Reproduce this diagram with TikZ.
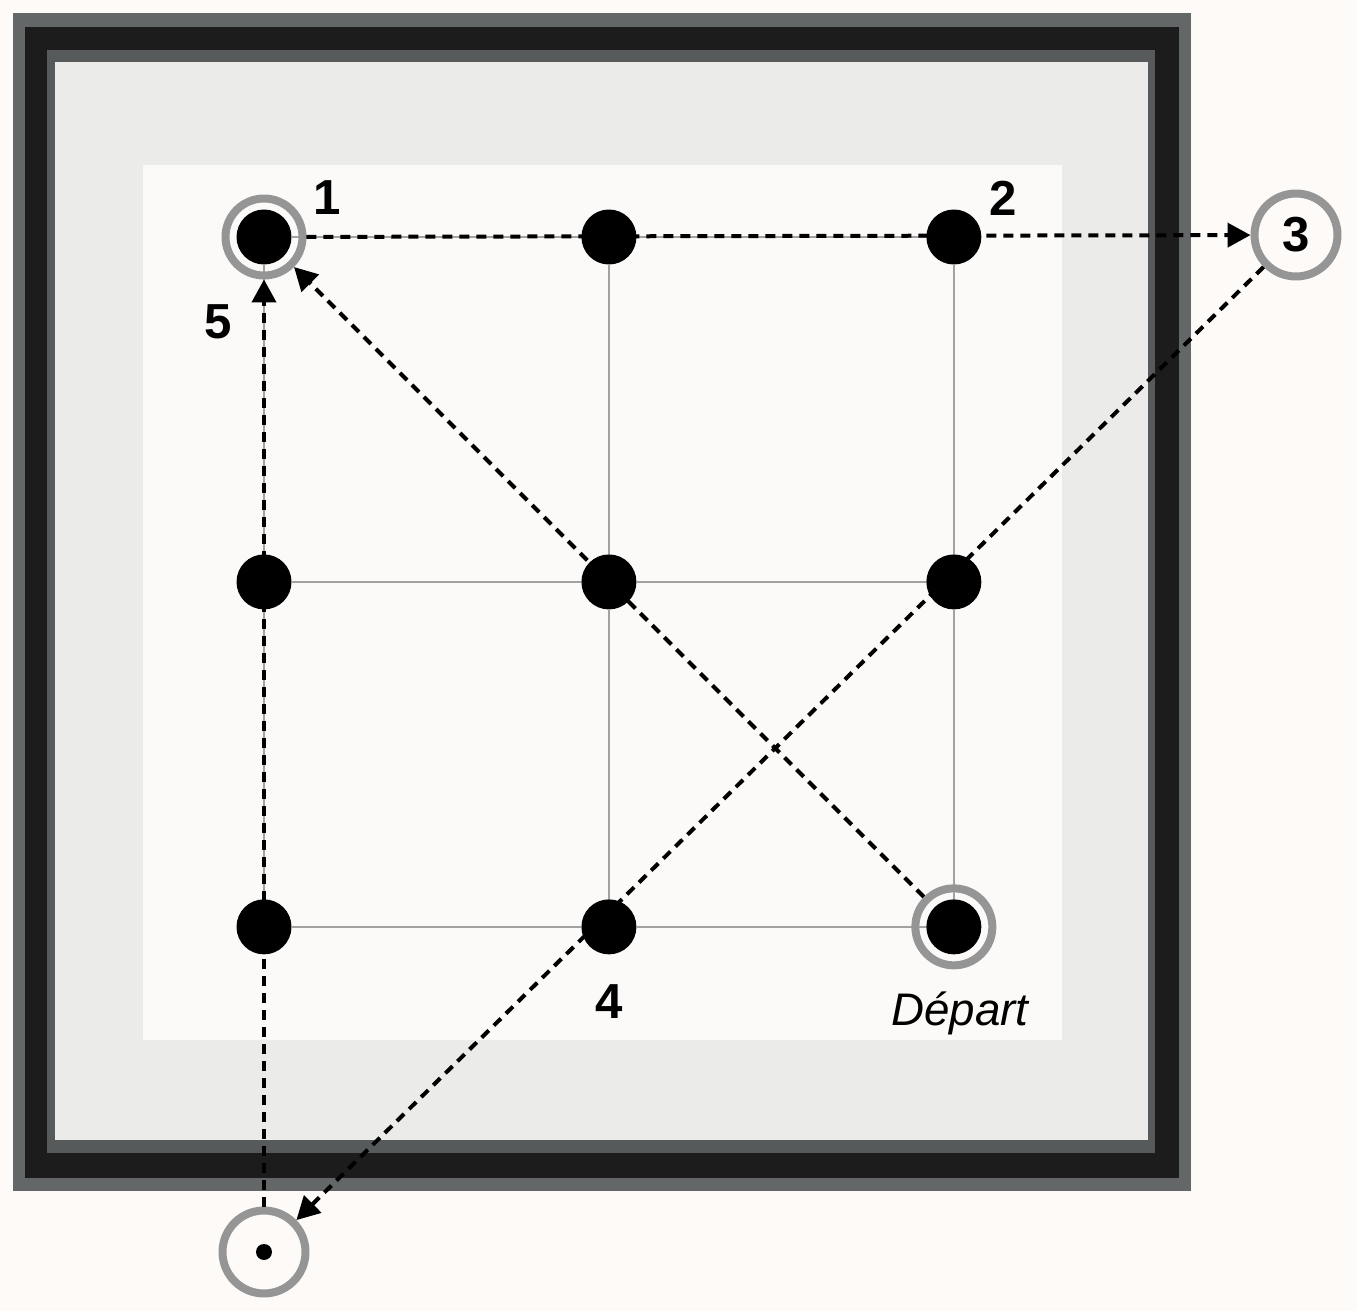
\documentclass[tikz,border=0pt]{standalone}
\usepackage{fontspec}
\setmainfont{Liberation Sans}
\usetikzlibrary{positioning,arrows.meta}
\definecolor{paper}{HTML}{FDFAF7}
\definecolor{panel}{HTML}{FCFAF8}
\definecolor{mat}{HTML}{EBEBE9}
\definecolor{framegray}{HTML}{646768}
\definecolor{frameblack}{HTML}{1C1C1D}
\definecolor{bevel}{HTML}{575A5B}
\definecolor{ringgray}{HTML}{959595}
\definecolor{gridgray}{HTML}{A2A2A2}
\begin{document}
\begin{tikzpicture}[x=0.02cm, y=-0.02cm, node distance=6.9cm,
  dot/.style = {circle, fill=black, inner sep=0pt, minimum size=1.1cm},
  ring/.style = {circle, draw=ringgray, line width=0.16cm, inner sep=0pt, minimum size=1.54cm},
  bigring/.style = {ring, minimum size=1.66cm},
  gridline/.style = {draw=gridgray, line width=0.04cm},
  trail/.style = {line width=0.08cm, dash pattern=on 0.2cm off 0.14cm, -{Triangle[length=0.46cm,width=0.48cm]}},
  num/.style = {inner sep=0pt, font=\fontsize{28}{32}\selectfont\bfseries}]

% frame and mat
\fill[paper] (0,0) rectangle (1357,1311);
\fill[framegray] (13,13) rectangle (1191,1191);
\fill[frameblack] (25,27) rectangle (1179,1178);
\fill[bevel] (47,50) rectangle (1155,1153);
\fill[mat] (55,62) rectangle (1148,1140);
\fill[panel] (143,165) rectangle (1062,1040);

% the nine dots
\node[dot] (tl) at (264,237) {};
\node[dot] (tm) [on grid, right=of tl] {};
\node[dot] (tr) [on grid, right=of tm] {};
\node[dot] (ml) [on grid, below=of tl] {};
\node[dot] (mm) [on grid, right=of ml] {};
\node[dot] (mr) [on grid, right=of mm] {};
\node[dot] (bl) [on grid, below=of ml] {};
\node[dot] (bm) [on grid, right=of bl] {};
\node[dot] (br) [on grid, right=of bm] {};

\draw[gridline] (tl) -- (tm); \draw[gridline] (tm) -- (tr);
\draw[gridline] (ml) -- (mm); \draw[gridline] (mm) -- (mr);
\draw[gridline] (bl) -- (bm); \draw[gridline] (bm) -- (br);
\draw[gridline] (tl) -- (ml); \draw[gridline] (ml) -- (bl);
\draw[gridline] (tm) -- (mm); \draw[gridline] (mm) -- (bm);
\draw[gridline] (tr) -- (mr); \draw[gridline] (mr) -- (br);

% rings
\node[ring] (r1) at (tl) {};
\node[ring] (start) at (br) {};
\node[bigring, num] (c3) at (1296,235) {3};
\node[bigring] (end) at (264,1252) {};
\node[circle, fill=black, inner sep=0pt, minimum size=0.32cm] (enddot) at (end) {};

% labels
\node[num] (n1) at (327,198) {1};
\node[num] (n2) at (1003,198) {2};
\node[num] (n4) at (609,1002) {4};
\node[num] (n5) at (218,322) {5};
\node[inner sep=0pt, font=\fontsize{26}{30}\selectfont\itshape] (dep) at (960,1013) {Départ};

% the path
\draw[trail] (start) -- (r1);
\draw[trail] (r1) -- (c3);
\draw[trail] (c3) -- (end);
\draw[trail] (end) -- (r1);
\end{tikzpicture}
\end{document}
